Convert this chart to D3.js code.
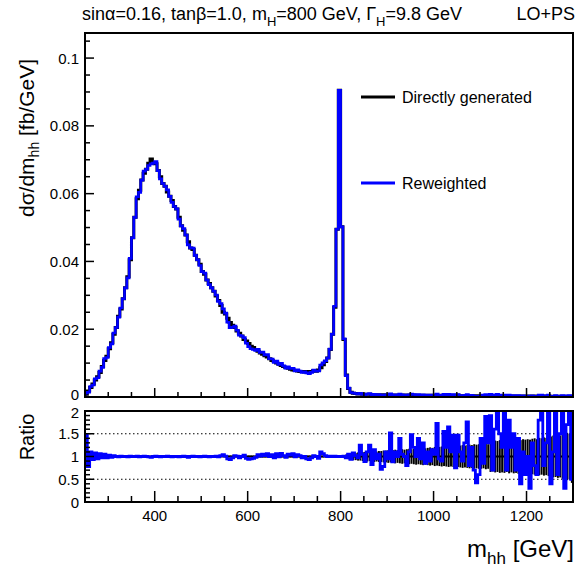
<!DOCTYPE html>
<html><head><meta charset="utf-8">
<script src="https://cdn.jsdelivr.net/npm/d3@7/dist/d3.min.js"></script>
<style>
body{margin:0;background:#fff}
svg{display:block}
text{font-family:"Liberation Sans",Arial,Helvetica,sans-serif;fill:#000}
</style>
</head><body>
<svg id="c" width="579" height="575"></svg>
<script>
// ---------------- DATA ----------------
const binStart = 250;      // GeV, first bin edge
const binStep = 5;         // GeV per bin
// d(sigma)/dm_hh, directly generated sample (fb/GeV), 5 GeV bins from 250 to 1300
const directValues = [
  0.0008,0.0018,0.0028,0.0038,0.0050,0.0060,0.0072,0.0090,0.0108,0.0120,
  0.0142,0.0160,0.0185,0.0205,0.0238,0.0260,0.0290,0.0322,0.0355,0.0405,
  0.0470,0.0530,0.0585,0.0610,0.0640,0.0660,0.0672,0.0690,0.0702,0.0690,
  0.0688,0.0668,0.0650,0.0630,0.0622,0.0605,0.0592,0.0580,0.0562,0.0555,
  0.0530,0.0505,0.0492,0.0478,0.0458,0.0440,0.0435,0.0418,0.0405,0.0392,
  0.0370,0.0362,0.0345,0.0335,0.0322,0.0312,0.0298,0.0285,0.0270,0.0250,
  0.0245,0.0232,0.0220,0.0212,0.0205,0.0195,0.0188,0.0180,0.0170,0.0165,
  0.0158,0.0150,0.0146,0.0140,0.0135,0.0130,0.0126,0.0122,0.0118,0.0113,
  0.0108,0.0105,0.0100,0.0097,0.0093,0.0090,0.0087,0.0085,0.0082,0.0080,
  0.0078,0.0077,0.0075,0.0075,0.0074,0.0075,0.0074,0.0075,0.0078,0.0076,
  0.0080,0.0086,0.0095,0.0105,0.0115,0.0140,0.0185,0.0265,0.0495,0.0905,
  0.0502,0.0170,0.0065,0.0025,0.0014,0.0011,0.0010,0.0009,0.0009,0.0008,
  0.0008,0.0008,0.0008,0.0007,0.0007,0.0007,0.0007,0.0007,0.0007,0.0006,
  0.0006,0.0006,0.0006,0.0006,0.0006,0.0006,0.0006,0.0006,0.0006,0.0006,
  0.0006,0.0006,0.0005,0.0005,0.0005,0.0005,0.0005,0.0005,0.0005,0.0005,
  0.0005,0.0005,0.0005,0.0005,0.0005,0.0005,0.0005,0.0005,0.0005,0.0005,
  0.0005,0.0004,0.0004,0.0004,0.0004,0.0004,0.0004,0.0004,0.0004,0.0004,
  0.0004,0.0004,0.0004,0.0004,0.0004,0.0004,0.0004,0.0004,0.0004,0.0004,
  0.0003,0.0003,0.0003,0.0003,0.0003,0.0003,0.0003,0.0003,0.0003,0.0003,
  0.0003,0.0003,0.0003,0.0003,0.0003,0.0003,0.0003,0.0003,0.0003,0.0003,
  0.0002,0.0002,0.0002,0.0002,0.0002,0.0002,0.0002,0.0002,0.0002,0.0002
];
// Reweighted / directly generated, per bin
const ratioValues = [
  1.48,0.78,1.10,0.93,1.08,0.95,1.06,0.97,1.05,0.97,
  1.03,0.98,1.02,1.00,0.99,1.01,1.00,1.00,0.99,1.01,
  1.00,1.00,1.01,0.99,1.00,1.01,1.00,0.99,0.98,1.00,
  1.01,1.00,0.99,1.00,1.00,1.01,1.00,0.99,1.00,1.00,
  0.99,1.00,1.01,1.00,0.98,1.00,1.01,1.00,1.00,0.99,
  1.00,1.01,1.00,0.99,1.00,1.00,1.01,0.99,1.02,1.04,
  1.01,0.95,0.93,0.97,1.02,1.01,0.97,1.00,1.03,0.96,
  0.94,0.95,0.96,0.98,1.04,1.01,1.05,1.02,1.06,1.00,
  1.04,0.97,1.06,0.99,1.07,1.02,0.98,1.05,1.03,1.06,
  0.99,1.04,1.02,0.97,1.00,0.95,0.93,0.97,1.02,1.00,
  0.96,1.10,1.06,1.02,1.00,1.01,1.00,1.01,1.00,1.00,
  1.00,1.01,0.97,1.05,0.94,1.08,1.02,0.97,1.25,1.05,
  0.89,1.10,1.25,0.82,1.15,0.95,1.05,0.72,0.78,1.10,
  0.95,1.52,0.88,1.10,1.00,1.40,1.05,1.00,0.80,1.10,
  1.48,1.20,1.00,1.40,0.95,1.30,0.85,1.10,0.90,1.15,
  1.05,1.73,0.95,0.90,1.55,1.20,1.65,1.10,1.47,0.75,
  1.47,1.10,0.90,1.30,1.76,0.80,1.20,0.70,0.42,0.60,
  1.40,0.85,1.88,1.30,1.90,0.70,1.60,1.97,1.50,1.20,
  2.00,0.70,1.80,1.20,1.50,0.70,1.40,0.40,1.10,0.60,
  1.00,0.30,1.30,0.80,0.60,1.80,1.95,0.80,1.30,2.00,
  0.40,1.10,2.00,0.60,1.50,2.00,0.30,1.70,2.00,0.50
];
// Relative statistical error of the directly generated sample, per bin
const relErrValues = [
  0.05,0.04,0.03,0.03,0.03,0.02,0.02,0.02,0.02,0.02,
  0.02,0.02,0.01,0.01,0.01,0.01,0.01,0.01,0.01,0.01,
  0.01,0.01,0.01,0.01,0.01,0.01,0.01,0.01,0.01,0.01,
  0.01,0.01,0.01,0.01,0.01,0.01,0.01,0.01,0.01,0.01,
  0.01,0.01,0.01,0.01,0.01,0.01,0.01,0.01,0.01,0.01,
  0.01,0.01,0.01,0.01,0.01,0.01,0.01,0.01,0.01,0.01,
  0.02,0.02,0.02,0.02,0.02,0.02,0.02,0.02,0.02,0.02,
  0.02,0.02,0.02,0.02,0.02,0.02,0.02,0.02,0.02,0.02,
  0.02,0.02,0.02,0.02,0.02,0.02,0.02,0.02,0.02,0.02,
  0.02,0.02,0.02,0.02,0.02,0.02,0.02,0.02,0.02,0.02,
  0.02,0.02,0.02,0.02,0.02,0.01,0.01,0.01,0.01,0.01,
  0.02,0.03,0.05,0.06,0.07,0.08,0.08,0.09,0.09,0.10,
  0.10,0.11,0.10,0.11,0.12,0.11,0.12,0.12,0.13,0.13,
  0.14,0.13,0.14,0.15,0.14,0.15,0.16,0.15,0.16,0.17,
  0.16,0.17,0.18,0.17,0.18,0.19,0.18,0.19,0.20,0.19,
  0.21,0.20,0.21,0.22,0.21,0.22,0.23,0.22,0.23,0.24,
  0.23,0.24,0.25,0.24,0.25,0.26,0.25,0.27,0.26,0.27,
  0.27,0.26,0.28,0.27,0.34,0.33,0.35,0.34,0.36,0.35,
  0.36,0.34,0.37,0.35,0.37,0.36,0.38,0.36,0.38,0.37,
  0.38,0.37,0.39,0.40,0.38,0.41,0.40,0.42,0.41,0.43,
  0.44,0.46,0.45,0.47,0.46,0.49,0.48,0.52,0.50,0.58
];
const seriesNames = ["Directly generated", "Reweighted"];
const seriesColors = ["#000000", "#0000ff"];
const xTicksMajor = [400, 600, 800, 1000, 1200];
const yTopTicksMajor = [0, 0.02, 0.04, 0.06, 0.08, 0.1];
const yRatioTicksMajor = [0, 0.5, 1, 1.5, 2];
const ratioGuides = [0.5, 1, 1.5];

// ---------------- LAYOUT ----------------
const svg = d3.select("#c");
const L = 85, R = 573;
const topT = 33, topB = 397;
const ratT = 411, ratB = 502;

const x = d3.scaleLinear().domain([250, 1300]).range([L, R]);
const yTop = d3.scaleLinear().domain([0, 0.1074]).range([topB, topT]);
const yRat = d3.scaleLinear().domain([0, 2]).range([ratB, ratT]);

const nBins = directValues.length;
const edges = d3.range(nBins + 1).map(i => binStart + binStep * i);
const reweightedValues = directValues.map((v, i) => v * ratioValues[i]);

const defs = svg.append("defs");
defs.append("clipPath").attr("id", "clipTop").append("rect")
  .attr("x", L).attr("y", topT).attr("width", R - L).attr("height", topB - topT);
defs.append("clipPath").attr("id", "clipRat").append("rect")
  .attr("x", L).attr("y", ratT).attr("width", R - L).attr("height", ratB - ratT);

function stepPoints(vals) {
  const pts = [[edges[0], 0]];
  vals.forEach((v, i) => pts.push([edges[i], v]));
  pts.push([edges[nBins], vals[nBins - 1]]);
  return pts;
}

// ---------------- TOP PANEL ----------------
const lineTop = d3.line().x(d => x(d[0])).y(d => yTop(d[1])).curve(d3.curveStepAfter);
const gTop = svg.append("g").attr("clip-path", "url(#clipTop)");
gTop.append("path").attr("d", lineTop(stepPoints(directValues)))
  .attr("fill", "none").attr("stroke", seriesColors[0]).attr("stroke-width", 3);
gTop.append("path").attr("d", lineTop(stepPoints(reweightedValues)))
  .attr("fill", "none").attr("stroke", seriesColors[1]).attr("stroke-width", 2.6);

// legend
const legY = [97, 183];
seriesNames.forEach((n, i) => {
  svg.append("line").attr("x1", 361).attr("x2", 395).attr("y1", legY[i]).attr("y2", legY[i])
    .attr("stroke", seriesColors[i]).attr("stroke-width", 3);
  svg.append("text").attr("x", 402).attr("y", legY[i] + 6).attr("font-size", 16).text(n);
});

// ---------------- RATIO PANEL ----------------
const gRat = svg.append("g").attr("clip-path", "url(#clipRat)");
ratioGuides.forEach(g => {
  gRat.append("line").attr("x1", L).attr("x2", R).attr("y1", yRat(g)).attr("y2", yRat(g))
    .attr("stroke", "#000").attr("stroke-width", 1).attr("stroke-dasharray", "1.5,2.5");
});
gRat.selectAll("rect.err").data(relErrValues).join("rect").attr("class", "err")
  .attr("x", (d, i) => x(edges[i]) + 0.2)
  .attr("width", (d, i) => Math.max(0.5, x(edges[i + 1]) - x(edges[i]) - 0.4))
  .attr("y", d => yRat(1 + d))
  .attr("height", d => yRat(1 - d) - yRat(1 + d))
  .attr("fill", "#000");
const lineRat = d3.line().x(d => x(d[0])).y(d => yRat(d[1])).curve(d3.curveStepAfter);
gRat.append("line").attr("x1", L).attr("x2", R).attr("y1", yRat(1)).attr("y2", yRat(1))
  .attr("stroke", "#000").attr("stroke-width", 2);
const rPts = ratioValues.map((v, i) => [edges[i], v]);
rPts.push([edges[nBins], ratioValues[nBins - 1]]);
gRat.append("path").attr("d", lineRat(rPts))
  .attr("fill", "none").attr("stroke", seriesColors[1]).attr("stroke-width", 2.8);

// ---------------- AXES ----------------
const ax = svg.append("g").attr("stroke", "#000");
function xTicks(yBase, majLen, minLen) {
  for (let v = 250; v <= 1300; v += 50) {
    const maj = xTicksMajor.includes(v);
    ax.append("line").attr("x1", x(v)).attr("x2", x(v))
      .attr("y1", yBase).attr("y2", yBase - (maj ? majLen : minLen)).attr("stroke-width", 1.5);
  }
}
xTicks(topB, 9, 5);
xTicks(ratB, 11, 6);
for (let k = 0; k <= 21; k++) {
  const v = k * 0.005;
  const maj = k % 4 === 0;
  ax.append("line").attr("x1", L).attr("x2", L + (maj ? 9 : 5))
    .attr("y1", yTop(v)).attr("y2", yTop(v)).attr("stroke-width", 1.5);
}
for (let k = 0; k <= 20; k++) {
  const v = k * 0.1;
  const maj = k % 5 === 0;
  ax.append("line").attr("x1", L).attr("x2", L + (maj ? 9 : 5))
    .attr("y1", yRat(v)).attr("y2", yRat(v)).attr("stroke-width", 1.5);
}
[[topT, topB], [ratT, ratB]].forEach(([t, b]) => {
  svg.append("rect").attr("x", L).attr("y", t).attr("width", R - L).attr("height", b - t)
    .attr("fill", "none").attr("stroke", "#000").attr("stroke-width", 2);
});

// tick labels
const fmtTop = d => d === 0 ? "0" : String(+d.toFixed(2));
yTopTicksMajor.forEach(v => {
  svg.append("text").attr("x", 79).attr("y", yTop(v) + (v === 0 ? 3 : 5.5)).attr("text-anchor", "end")
    .attr("font-size", 15).text(fmtTop(v));
});
yRatioTicksMajor.forEach(v => {
  svg.append("text").attr("x", 79).attr("y", yRat(v) + (v === 2 ? 7 : 5.5)).attr("text-anchor", "end")
    .attr("font-size", 15).text(String(v));
});
xTicksMajor.forEach(v => {
  svg.append("text").attr("x", x(v)).attr("y", 521).attr("text-anchor", "middle")
    .attr("font-size", 15).text(String(v));
});

// titles
const t1 = svg.append("text").attr("x", 82).attr("y", 20).attr("font-size", 18);
t1.append("tspan").text("sinα=0.16, tanβ=1.0, m");
t1.append("tspan").attr("dy", 6).attr("font-size", 13).text("H");
t1.append("tspan").attr("dy", -6).text("=800 GeV, Γ");
t1.append("tspan").attr("dy", 6).attr("font-size", 13).text("H");
t1.append("tspan").attr("dy", -6).text("=9.8 GeV");
svg.append("text").attr("x", 575).attr("y", 20).attr("text-anchor", "end")
  .attr("font-size", 18).text("LO+PS");

const yl = svg.append("text").attr("transform", "translate(34,138) rotate(-90)")
  .attr("text-anchor", "middle").attr("font-size", 21);
yl.append("tspan").text("dσ/dm");
yl.append("tspan").attr("dy", 5).attr("font-size", 14).text("hh");
yl.append("tspan").attr("dy", -5).text(" [fb/GeV]");

svg.append("text").attr("transform", "translate(34,437) rotate(-90)")
  .attr("text-anchor", "middle").attr("font-size", 20).text("Ratio");

const xl = svg.append("text").attr("x", 574).attr("y", 557).attr("text-anchor", "end")
  .attr("font-size", 24);
xl.append("tspan").text("m");
xl.append("tspan").attr("dy", 7).attr("font-size", 17).text("hh");
xl.append("tspan").attr("dy", -7).text(" [GeV]");
</script>
</body></html>
